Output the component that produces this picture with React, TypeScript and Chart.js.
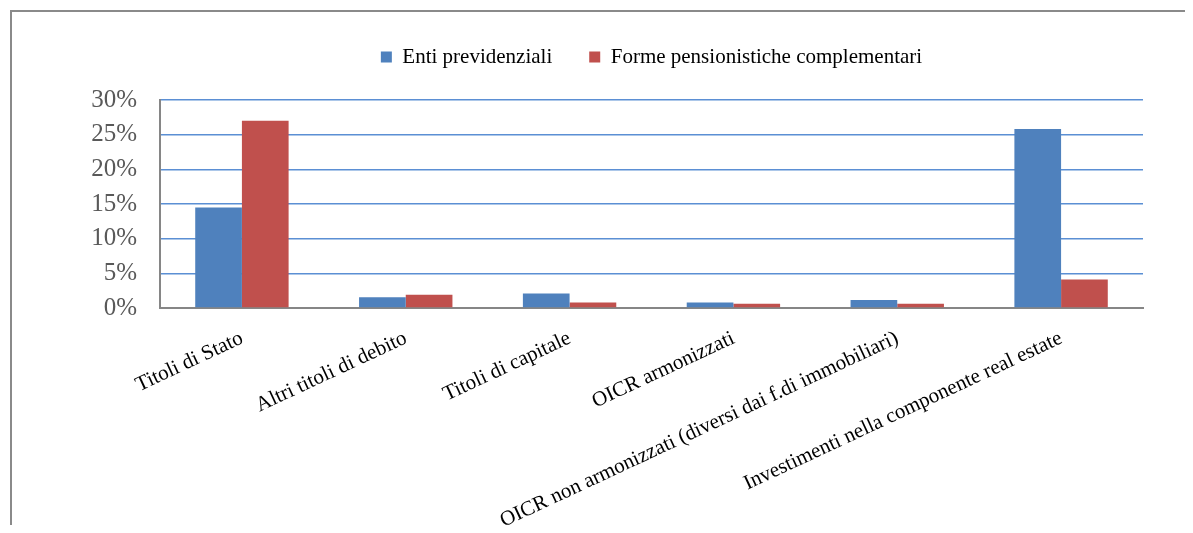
import { useEffect, useRef } from 'react';
import { Chart, registerables } from 'chart.js';

Chart.register(...registerables);

const categories = [
  'Titoli di Stato',
  'Altri titoli di debito',
  'Titoli di capitale',
  'OICR armonizzati',
  'OICR non armonizzati (diversi dai f.di immobiliari)',
  'Investimenti nella componente real estate',
];
const seriesNames = ['Enti previdenziali', 'Forme pensionistiche complementari'];
const entiValues = [14.5, 1.55, 2.1, 0.8, 1.15, 25.8];
const formeValues = [27.0, 1.9, 0.8, 0.6, 0.6, 4.1];
const yMin = 0;
const yMax = 30;
const yStep = 5;

const FONT = '"Liberation Serif", "Times New Roman", serif';

export default function App() {
  const ref = useRef<HTMLCanvasElement>(null);

  useEffect(() => {
    if (!ref.current) return;
    const chart = new Chart(ref.current, {
      type: 'bar',
      data: {
        labels: categories,
        datasets: [
          {
            label: seriesNames[0],
            data: entiValues,
            backgroundColor: '#4F81BD',
            barPercentage: 1,
            categoryPercentage: 0.57,
          },
          {
            label: seriesNames[1],
            data: formeValues,
            backgroundColor: '#C0504D',
            barPercentage: 1,
            categoryPercentage: 0.57,
          },
        ],
      },
      options: {
        animation: false,
        responsive: false,
        layout: { padding: { left: 0, right: 50, top: 9.5, bottom: 0 } },
        plugins: {
          tooltip: { enabled: false },
          legend: {
            position: 'top',
            fullSize: false,
            labels: {
              boxWidth: 11,
              boxHeight: 11,
              padding: 37,
              color: '#000',
              font: { family: FONT, size: 21 },
            },
          },
          title: {
            display: true,
            text: ' ',
            weight: 500,
            fullSize: false,
            padding: { top: 0, bottom: 10.5 },
            font: { family: FONT, size: 10 },
          },
        },
        scales: {
          x: {
            grid: { display: false },
            border: { display: true, color: '#868686', width: 2 },
            ticks: {
              autoSkip: false,
              minRotation: 25,
              maxRotation: 25,
              padding: 10,
              color: '#000',
              font: { family: FONT, size: 21 },
            },
            afterFit: (s: any) => {
              s.height = 225;
            },
          },
          y: {
            min: yMin,
            max: yMax,
            ticks: {
              stepSize: yStep,
              padding: 23,
              color: '#595959',
              font: { family: FONT, size: 25 },
              callback: (v: any) => v + '%',
            },
            grid: { color: '#5b8fd4', lineWidth: 1.5, drawTicks: false },
            border: { display: true, color: '#868686', width: 2 },
            afterFit: (s: any) => {
              s.width = 160;
            },
          },
        },
      },
    });
    return () => chart.destroy();
  }, []);

  return (
    <div
      style={{
        position: 'relative',
        margin: -8,
        width: 1193,
        height: 533,
        overflow: 'hidden',
        background: '#fff',
      }}
    >
      <div
        style={{
          position: 'absolute',
          left: 10,
          top: 10,
          width: 1300,
          height: 700,
          border: '2px solid #8a8a8a',
        }}
      />
      <canvas
        ref={ref}
        width={1193}
        height={533}
        style={{ position: 'absolute', left: 0, top: 0, display: 'block' }}
      />
    </div>
  );
}
